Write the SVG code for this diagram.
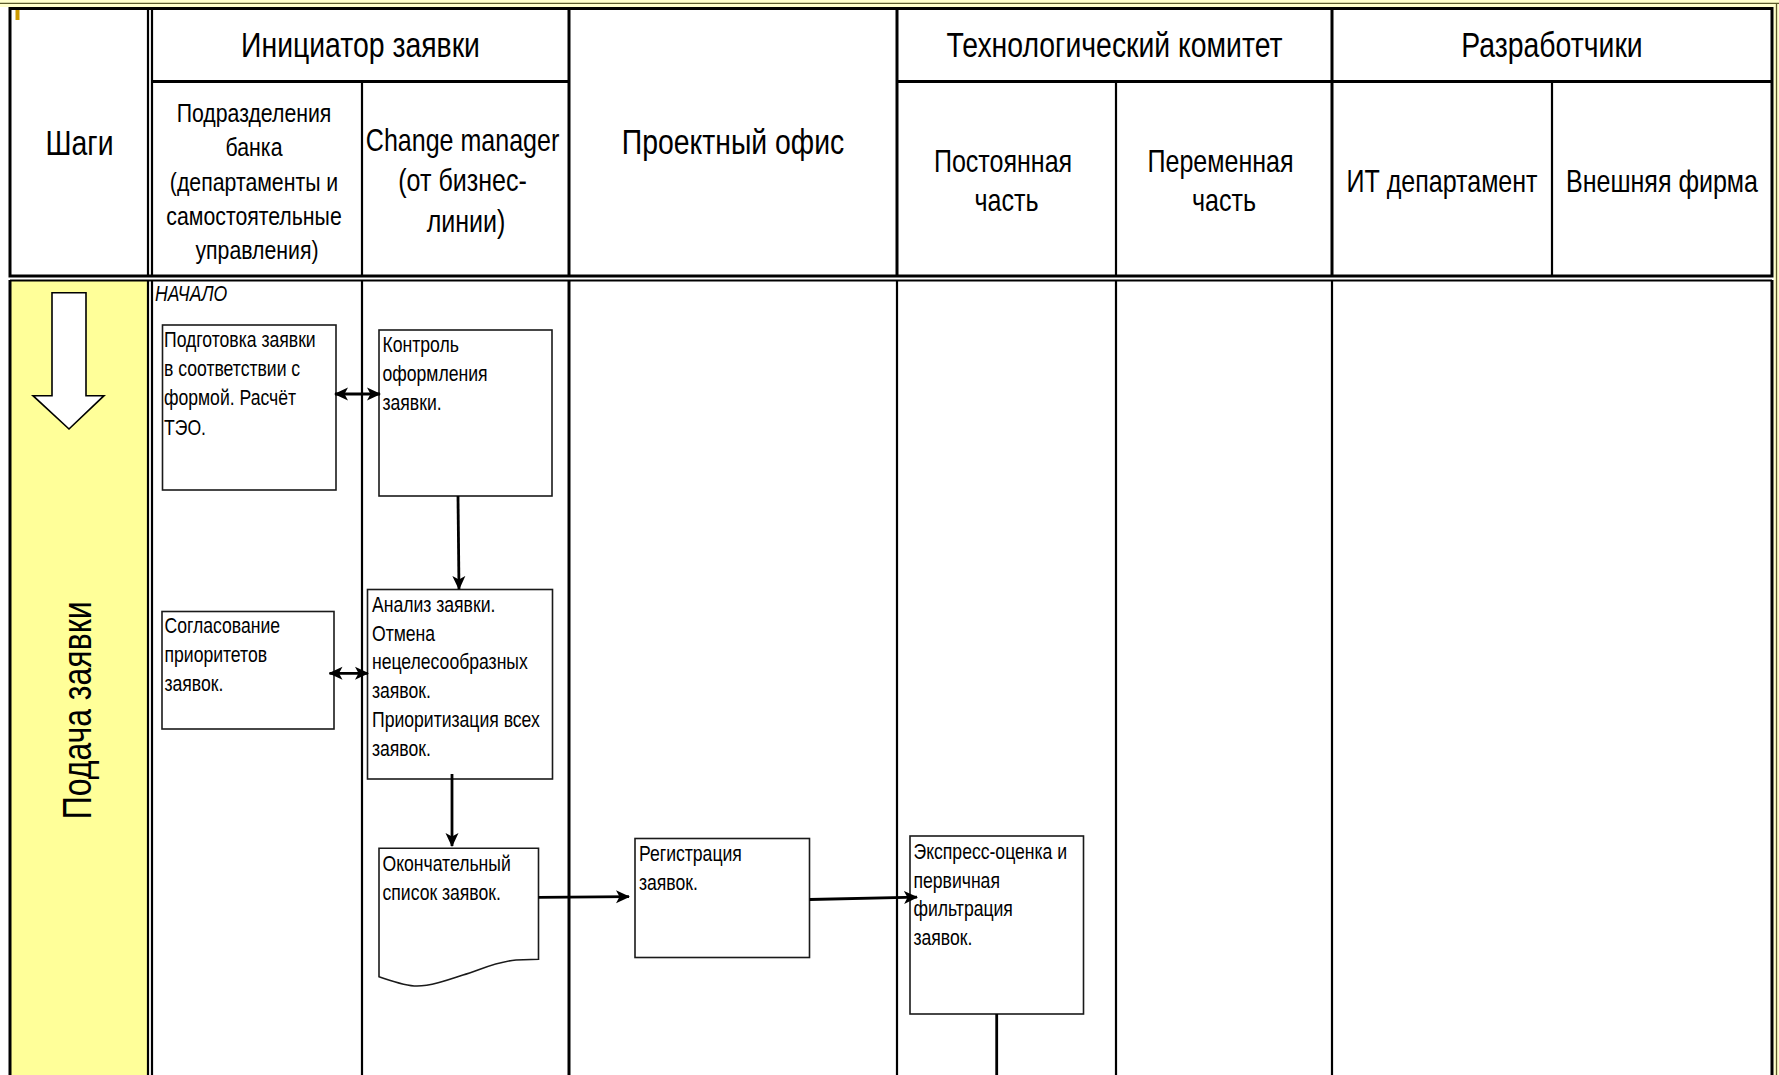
<svg xmlns="http://www.w3.org/2000/svg" width="1779" height="1075" viewBox="0 0 1779 1075">
  <style>
    text { font-family: "Liberation Sans", Arial, sans-serif; fill: #000; }
    .h1 { font-size: 35.5px; text-anchor: middle; }
    .h2 { font-size: 31.3px; text-anchor: middle; }
    .h3 { font-size: 26.6px; text-anchor: middle; }
    .v  { font-size: 40px; text-anchor: middle; }
    .t  { font-size: 22px; }
    .it { font-size: 22px; font-style: italic; }
    .box { fill: #fff; stroke: #1a1a1a; stroke-width: 1.6; }
    .grid { stroke: #000; fill: none; }
    .thick { stroke-width: 3; }
    .thin { stroke-width: 2.2; }
    .conn { stroke: #000; stroke-width: 2.8; fill: none; }
    .band { fill: #FFFFCC; }
    .rule { stroke: #5a5a2a; stroke-width: 1.3; }
  </style>
  <defs>
    <marker id="ah" viewBox="0 0 14 14" refX="13" refY="7" markerWidth="14" markerHeight="14" markerUnits="userSpaceOnUse" orient="auto-start-reverse">
      <path d="M0,0.5 L14,7 L0,13.5 L3.5,7 z" fill="#000"/>
    </marker>
  </defs>

  <!-- slide background and frame bands -->
  <rect x="0" y="0" width="1779" height="1075" fill="#fff"/>
  <rect class="band" x="0" y="0" width="1779" height="7"/>
  <rect class="band" x="1773.5" y="0" width="5.5" height="1075"/>
  <line class="rule" x1="0" y1="3.4" x2="1779" y2="3.4"/>
  <line class="rule" x1="1776.5" y1="3.4" x2="1776.5" y2="1075"/>
  <rect x="15.5" y="10" width="4" height="10" fill="#CC9900"/>

  <!-- step column fill -->
  <rect x="10" y="280.5" width="138" height="800" fill="#FFFF99"/>

  <!-- header grid -->
  <g id="header-grid" class="grid">
    <rect x="10" y="8.5" width="1762" height="267.5" class="thick"/>
    <line x1="148" y1="8.5" x2="148" y2="276" class="thin"/>
    <line x1="152" y1="8.5" x2="152" y2="276" class="thin"/>
    <line x1="152" y1="81.5" x2="569" y2="81.5" class="thick"/>
    <line x1="897" y1="81.5" x2="1772" y2="81.5" class="thick"/>
    <line x1="362" y1="81.5" x2="362" y2="276" class="thin"/>
    <line x1="569" y1="8.5" x2="569" y2="276" class="thick"/>
    <line x1="897" y1="8.5" x2="897" y2="276" class="thick"/>
    <line x1="1116" y1="81.5" x2="1116" y2="276" class="thin"/>
    <line x1="1332" y1="8.5" x2="1332" y2="276" class="thick"/>
    <line x1="1552" y1="81.5" x2="1552" y2="276" class="thin"/>
  </g>

  <!-- body grid -->
  <g id="body-grid" class="grid">
    <line x1="10" y1="280.5" x2="1772" y2="280.5" class="thin"/>
    <line x1="10" y1="280" x2="10" y2="1075" class="thick"/>
    <line x1="148" y1="280" x2="148" y2="1075" class="thin"/>
    <line x1="152" y1="280" x2="152" y2="1075" class="thin"/>
    <line x1="362" y1="280" x2="362" y2="1075" class="thin"/>
    <line x1="569" y1="280" x2="569" y2="1075" class="thick"/>
    <line x1="897" y1="280" x2="897" y2="1075" class="thin"/>
    <line x1="1116" y1="280" x2="1116" y2="1075" class="thin"/>
    <line x1="1332" y1="280" x2="1332" y2="1075" class="thin"/>
    <line x1="1772" y1="280" x2="1772" y2="1075" class="thick"/>
  </g>

  <!-- header labels -->
  <g id="headers">
    <text class="h1" transform="translate(79.5,154.5) scale(0.8,1)">Шаги</text>
    <text class="h1" transform="translate(360.5,57) scale(0.8,1)">Инициатор заявки</text>
    <text class="h3" transform="translate(257,0) scale(0.8,1)">
      <tspan x="0" y="122">Подразделения</tspan>
      <tspan x="0" y="156.3">банка</tspan>
      <tspan x="0" y="190.7">(департаменты и</tspan>
      <tspan x="0" y="225">самостоятельные</tspan>
      <tspan x="0" y="259.3">управления)</tspan>
    </text>
    <text class="h2" transform="translate(466,0) scale(0.8,1)">
      <tspan x="0" y="151">Change manager</tspan>
      <tspan x="0" y="191.5">(от бизнес-</tspan>
      <tspan x="0" y="232">линии)</tspan>
    </text>
    <text class="h1" transform="translate(733,153.5) scale(0.8,1)">Проектный офис</text>
    <text class="h1" transform="translate(1114.5,57) scale(0.8,1)">Технологический комитет</text>
    <text class="h2" transform="translate(1006.5,0) scale(0.8,1)">
      <tspan x="0" y="172">Постоянная</tspan>
      <tspan x="0" y="211">часть</tspan>
    </text>
    <text class="h2" transform="translate(1224,0) scale(0.8,1)">
      <tspan x="0" y="172">Переменная</tspan>
      <tspan x="0" y="211">часть</tspan>
    </text>
    <text class="h1" transform="translate(1552,57) scale(0.8,1)">Разработчики</text>
    <text class="h2" transform="translate(1442,192) scale(0.8,1)">ИТ департамент</text>
    <text class="h2" transform="translate(1662,192) scale(0.8,1)">Внешняя фирма</text>
  </g>

  <!-- step column -->
  <g id="step">
    <polygon points="52,292.7 86,292.7 86,395.7 104,395.7 69,429 33,395.7 52,395.7" fill="#fff" stroke="#000" stroke-width="1.6"/>
    <text class="v" transform="translate(90.5,710.4) rotate(-90) scale(0.8,1)">Подача заявки</text>
  </g>

  <text class="it" transform="translate(155,301) scale(0.8,1)">НАЧАЛО</text>

  <!-- process nodes -->
  <g id="prep">
    <rect class="box" x="162.5" y="325" width="173.5" height="165"/>
    <text class="t" transform="translate(164,0) scale(0.8,1)">
      <tspan x="0" y="346.7">Подготовка заявки</tspan>
      <tspan x="0" y="376.1">в соответствии с</tspan>
      <tspan x="0" y="405.5">формой. Расчёт</tspan>
      <tspan x="0" y="434.9">ТЭО.</tspan>
    </text>
  </g>
  <g id="control">
    <rect class="box" x="379" y="330" width="173" height="166"/>
    <text class="t" transform="translate(382.5,0) scale(0.8,1)">
      <tspan x="0" y="352.5">Контроль</tspan>
      <tspan x="0" y="381.5">оформления</tspan>
      <tspan x="0" y="410.5">заявки.</tspan>
    </text>
  </g>
  <g id="priorities">
    <rect class="box" x="162" y="611.5" width="172" height="117.5"/>
    <text class="t" transform="translate(164.5,0) scale(0.8,1)">
      <tspan x="0" y="633.5">Согласование</tspan>
      <tspan x="0" y="662.5">приоритетов</tspan>
      <tspan x="0" y="691.5">заявок.</tspan>
    </text>
  </g>
  <g id="analysis">
    <rect class="box" x="367.5" y="589.5" width="185" height="189.5"/>
    <text class="t" transform="translate(372,0) scale(0.8,1)">
      <tspan x="0" y="611.7">Анализ заявки.</tspan>
      <tspan x="0" y="640.6">Отмена</tspan>
      <tspan x="0" y="669.5">нецелесообразных</tspan>
      <tspan x="0" y="698.4">заявок.</tspan>
      <tspan x="0" y="727.3">Приоритизация всех</tspan>
      <tspan x="0" y="756.2">заявок.</tspan>
    </text>
  </g>
  <g id="final-list">
    <path class="box" d="M379,848.3 H538.5 V959.3 L516,960 C495,962 480,970 463,975 C445,981 430,986 417,986 C405,986 392,981 379,976.7 Z"/>
    <text class="t" transform="translate(382.5,0) scale(0.8,1)">
      <tspan x="0" y="871">Окончательный</tspan>
      <tspan x="0" y="900">список заявок.</tspan>
    </text>
  </g>
  <g id="registration">
    <rect class="box" x="635" y="838.5" width="174.5" height="119"/>
    <text class="t" transform="translate(639,0) scale(0.8,1)">
      <tspan x="0" y="861">Регистрация</tspan>
      <tspan x="0" y="890">заявок.</tspan>
    </text>
  </g>
  <g id="express">
    <rect class="box" x="910" y="836" width="173.5" height="178"/>
    <text class="t" transform="translate(913.5,0) scale(0.8,1)">
      <tspan x="0" y="859.5">Экспресс-оценка и</tspan>
      <tspan x="0" y="888">первичная</tspan>
      <tspan x="0" y="916.5">фильтрация</tspan>
      <tspan x="0" y="945">заявок.</tspan>
    </text>
  </g>

  <!-- connectors -->
  <g id="connectors" class="conn">
    <line x1="335" y1="394" x2="380" y2="394" marker-start="url(#ah)" marker-end="url(#ah)"/>
    <line x1="458" y1="496" x2="459" y2="589" marker-end="url(#ah)"/>
    <line x1="329.5" y1="673.3" x2="368" y2="673.3" marker-start="url(#ah)" marker-end="url(#ah)"/>
    <line x1="452" y1="774" x2="452" y2="846" marker-end="url(#ah)"/>
    <line x1="538.5" y1="897.3" x2="629" y2="896.7" marker-end="url(#ah)"/>
    <line x1="809.7" y1="899.5" x2="917" y2="897.2" marker-end="url(#ah)"/>
    <line x1="996.7" y1="1014" x2="996.7" y2="1075"/>
  </g>
</svg>
